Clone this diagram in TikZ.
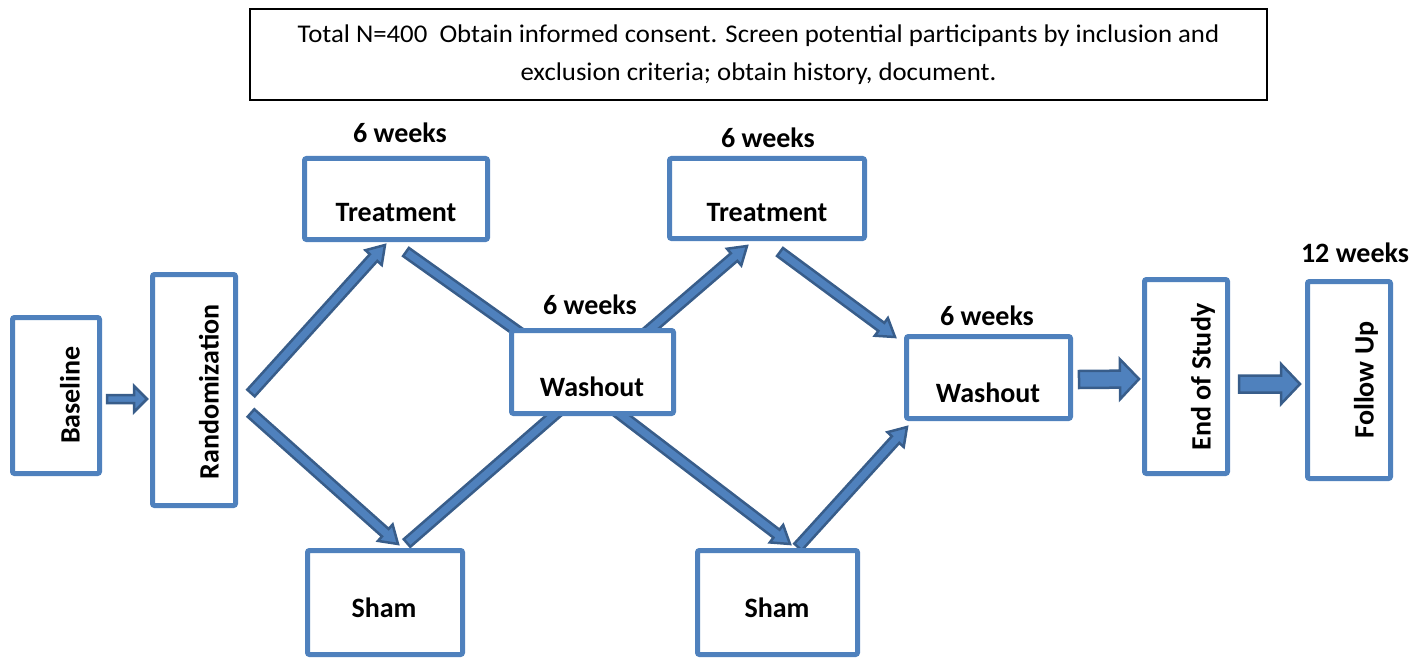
\documentclass[tikz,border=0pt]{standalone}
\usepackage{fontspec}
\setmainfont{Carlito}
\usetikzlibrary{calc}
\definecolor{boxblue}{HTML}{4F81BD}
\definecolor{arrdark}{HTML}{385D8A}
\pgfdeclarelayer{bg}
\pgfsetlayers{bg,main}
\tikzset{
  flowbox/.style={draw=boxblue, line width=5pt, fill=white, rounded corners=2pt, inner sep=0pt},
  topbox/.style={draw=black, line width=2pt, fill=white, inner sep=0pt},
  toptext/.style={font=\fontsize{25.5}{30}\selectfont, inner sep=0pt},
  lbl/.style={font=\fontsize{28}{30}\selectfont\bfseries, inner sep=0pt},
  vlbl/.style={lbl, rotate=90},
  blockarrow/.style={fill=boxblue, draw=arrdark, line width=2.5pt, line join=miter},
}
% #1 start, #2 tip, #3 half shaft, #4 half head, #5 head length
\newcommand{\blockarr}[5]{%
  \coordinate (hb) at ($(#2)!#5!(#1)$);
  \filldraw[blockarrow] ($(#1)!#3!90:(#2)$) -- ($(hb)!#3!90:(#2)$) -- ($(hb)!#4!90:(#2)$)
     -- (#2) -- ($(hb)!#4!-90:(#2)$) -- ($(hb)!#3!-90:(#2)$) -- ($(#1)!#3!-90:(#2)$) -- cycle;
}
% shaft only
\newcommand{\blockbar}[3]{%
  \filldraw[blockarrow] ($(#1)!#3!90:(#2)$) -- ($(#2)!#3!-90:(#1)$) -- ($(#2)!#3!90:(#1)$) -- ($(#1)!#3!-90:(#2)$) -- cycle;
}
\begin{document}
\begin{tikzpicture}[x=1pt,y=-1pt]
\useasboundingbox (0,0) rectangle (1427,658);
% top box
\node[topbox, minimum width=1017pt, minimum height=91pt] (top) at (758.5,54.5) {};
\node[toptext] (topl1) at (758.5,36) {\scalebox{1.05}[1]{Total N=400\ \ Obtain informed consent. Screen potential participants by inclusion and}};
\node[toptext] (topl2) at (758.5,74) {\scalebox{1.05}[1]{exclusion criteria; obtain history, document.}};
% boxes
\node[flowbox, minimum width=87pt, minimum height=156pt] (base) at (56,395.5) {};
\node[flowbox, minimum width=83pt, minimum height=231pt] (rand) at (194,390) {};
\node[flowbox, minimum width=183pt, minimum height=81pt] (treat1) at (396,199) {};
\node[flowbox, minimum width=155pt, minimum height=104pt] (sham1) at (385,602.5) {};
\node[flowbox, minimum width=162pt, minimum height=83pt] (wash1) at (592.5,372) {};
\node[flowbox, minimum width=195pt, minimum height=80pt] (treat2) at (767,198.5) {};
\node[flowbox, minimum width=160pt, minimum height=104pt] (sham2) at (777.5,602.5) {};
\node[flowbox, minimum width=164pt, minimum height=82pt] (wash2) at (988.5,377.5) {};
\node[flowbox, minimum width=83pt, minimum height=194pt] (endst) at (1186,376.5) {};
\node[flowbox, minimum width=83pt, minimum height=197pt] (follow) at (1349,380) {};
% labels
\node[vlbl] (tbase) at (70,395) {Baseline};
\node[vlbl] (trand) at (209,392) {Randomization};
\node[vlbl] (tend) at (1203,377) {End of Study};
\node[vlbl] (tfollow) at (1366,380) {Follow Up};
\node[lbl] (ttreat1) at (396,213) {Treatment};
\node[lbl] (ttreat2) at (767,213) {Treatment};
\node[lbl] (tsham1) at (384,608) {Sham};
\node[lbl] (tsham2) at (777,608) {Sham};
\node[lbl] (twash1) at (592,387) {Washout};
\node[lbl] (twash2) at (988,393) {Washout};
\node[lbl] (w1) at (400,133) {6 weeks};
\node[lbl] (w2) at (768,138) {6 weeks};
\node[lbl] (w3) at (590,305) {6 weeks};
\node[lbl] (w4) at (987,316) {6 weeks};
\node[lbl] (w5) at (1355,253) {12 weeks};
% connector end points
\coordinate (a1s) at (251,393);   \coordinate (a1e) at (385,245);
\coordinate (a2s) at (406,252);   \coordinate (a2e) at (520,333);
\coordinate (a3s) at (640,338);   \coordinate (a3e) at (747,246);
\coordinate (a4s) at (251,413);   \coordinate (a4e) at (398,544);
\coordinate (a5s) at (407,543);   \coordinate (a5e) at (560,410);
\coordinate (a6s) at (612,408);   \coordinate (a6e) at (790,544);
\coordinate (a7s) at (798,547);   \coordinate (a7e) at (907,427);
\coordinate (a8s) at (780,252);   \coordinate (a8e) at (895,337);
\coordinate (h1s) at ($(base.east)+(5,3.5)$);   \coordinate (h1e) at ($(rand.west)+(-3,9)$);
\coordinate (h2s) at ($(wash2.east)+(6,2)$);    \coordinate (h2e) at ($(endst.west)+(-3,2.5)$);
\coordinate (h3s) at ($(endst.east)+(9,7.5)$);  \coordinate (h3e) at ($(follow.west)+(-5,4)$);
\begin{pgfonlayer}{bg}
\blockarr{a1s}{a1e}{5pt}{11pt}{17pt}
\blockbar{a2s}{a2e}{5pt}
\blockarr{a3s}{a3e}{5pt}{11pt}{17pt}
\blockarr{a4s}{a4e}{5pt}{11pt}{17pt}
\blockbar{a5s}{a5e}{5pt}
\blockarr{a6s}{a6e}{5pt}{11pt}{17pt}
\blockarr{a7s}{a7e}{5pt}{11pt}{17pt}
\blockarr{a8s}{a8e}{5pt}{11pt}{17pt}
\blockarr{h1s}{h1e}{4pt}{13pt}{13pt}
\blockarr{h2s}{h2e}{8.5pt}{20pt}{19pt}
\blockarr{h3s}{h3e}{8.5pt}{20pt}{19pt}
\end{pgfonlayer}
\end{tikzpicture}
\end{document}
